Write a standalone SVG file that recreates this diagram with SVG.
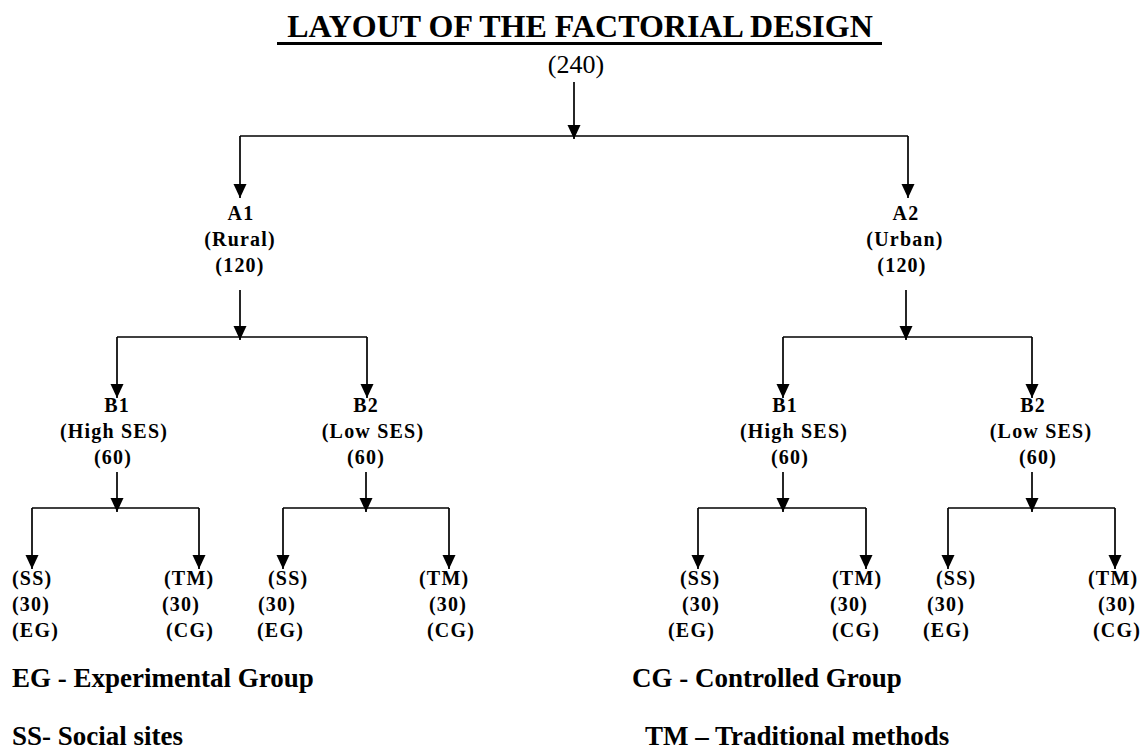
<svg xmlns="http://www.w3.org/2000/svg" width="1148" height="751" viewBox="0 0 1148 751" font-family="Liberation Serif, DejaVu Serif, serif">
<defs>
<style>
text{font-family:'Liberation Serif','DejaVu Serif',serif;fill:#000}
.t{font-size:32px;font-weight:bold}
.r{font-size:26px}
.b{font-size:20px;font-weight:bold;letter-spacing:1.2px}
.m{text-anchor:middle}
.l{font-size:27px;font-weight:bold}
.c{stroke:#000;stroke-width:1.7;fill:none}
.a{stroke:#000;stroke-width:1.7;fill:none;marker-end:url(#ah)}
</style>
<marker id="ah" markerUnits="userSpaceOnUse" markerWidth="14" markerHeight="14" refX="14" refY="6.5" orient="auto">
<path d="M0,0 L14,6.5 L0,13 z" fill="#000"/>
</marker>
</defs>
<rect width="1148" height="751" fill="#fff"/>
<g id="title">
<text class="t m" x="580" y="37">LAYOUT OF THE FACTORIAL DESIGN</text>
<rect x="277" y="42" width="605" height="3" fill="#000"/>
</g>
<g id="connectors">
<line class="a" x1="574" y1="82" x2="574" y2="139"/>
<line class="c" x1="240" y1="136" x2="908" y2="136"/>
<line class="a" x1="240" y1="136" x2="240" y2="198"/>
<line class="a" x1="908" y1="136" x2="908" y2="198"/>
<line class="a" x1="240" y1="290" x2="240" y2="340"/>
<line class="a" x1="906" y1="290" x2="906" y2="340"/>
<line class="c" x1="117" y1="337" x2="367" y2="337"/>
<line class="c" x1="783" y1="337" x2="1032" y2="337"/>
<line class="a" x1="117" y1="337" x2="117" y2="398"/>
<line class="a" x1="367" y1="337" x2="367" y2="398"/>
<line class="a" x1="783" y1="337" x2="783" y2="398"/>
<line class="a" x1="1032" y1="337" x2="1032" y2="398"/>
<line class="a" x1="117" y1="472" x2="117" y2="512"/>
<line class="a" x1="366" y1="472" x2="366" y2="512"/>
<line class="a" x1="783" y1="472" x2="783" y2="512"/>
<line class="a" x1="1032" y1="472" x2="1032" y2="512"/>
<line class="c" x1="32" y1="508" x2="199" y2="508"/>
<line class="c" x1="283" y1="508" x2="449" y2="508"/>
<line class="c" x1="698" y1="508" x2="866" y2="508"/>
<line class="c" x1="948" y1="508" x2="1115" y2="508"/>
<line class="a" x1="32" y1="508" x2="32" y2="569"/>
<line class="a" x1="199" y1="508" x2="199" y2="569"/>
<line class="a" x1="283" y1="508" x2="283" y2="569"/>
<line class="a" x1="449" y1="508" x2="449" y2="569"/>
<line class="a" x1="698" y1="508" x2="698" y2="569"/>
<line class="a" x1="866" y1="508" x2="866" y2="569"/>
<line class="a" x1="948" y1="508" x2="948" y2="569"/>
<line class="a" x1="1115" y1="508" x2="1115" y2="569"/>
</g>
<g id="root"><text class="r m" x="576" y="73">(240)</text></g>
<g id="a1">
<text class="b m" x="241" y="220">A1</text>
<text class="b m" x="240" y="246">(Rural)</text>
<text class="b m" x="240" y="272">(120)</text>
</g>
<g id="a2">
<text class="b m" x="906" y="220">A2</text>
<text class="b m" x="905" y="246">(Urban)</text>
<text class="b m" x="902" y="272">(120)</text>
</g>
<g id="a1b1">
<text class="b m" x="117" y="412">B1</text>
<text class="b m" x="114" y="438">(High SES)</text>
<text class="b m" x="113" y="464">(60)</text>
</g>
<g id="a1b2">
<text class="b m" x="366" y="412">B2</text>
<text class="b m" x="373" y="438">(Low SES)</text>
<text class="b m" x="366" y="464">(60)</text>
</g>
<g id="a2b1">
<text class="b m" x="785" y="412">B1</text>
<text class="b m" x="794" y="438">(High SES)</text>
<text class="b m" x="790" y="464">(60)</text>
</g>
<g id="a2b2">
<text class="b m" x="1033" y="412">B2</text>
<text class="b m" x="1041" y="438">(Low SES)</text>
<text class="b m" x="1038" y="464">(60)</text>
</g>
<g id="a1b1ss"><text class="b" x="12" y="585">(SS)</text><text class="b" x="12" y="611">(30)</text><text class="b" x="12" y="637">(EG)</text></g>
<g id="a1b1tm"><text class="b" x="164" y="585">(TM)</text><text class="b" x="162" y="611">(30)</text><text class="b" x="166" y="637">(CG)</text></g>
<g id="a1b2ss"><text class="b" x="268" y="585">(SS)</text><text class="b" x="258" y="611">(30)</text><text class="b" x="257" y="637">(EG)</text></g>
<g id="a1b2tm"><text class="b" x="419" y="585">(TM)</text><text class="b" x="429" y="611">(30)</text><text class="b" x="427" y="637">(CG)</text></g>
<g id="a2b1ss"><text class="b" x="680" y="585">(SS)</text><text class="b" x="682" y="611">(30)</text><text class="b" x="668" y="637">(EG)</text></g>
<g id="a2b1tm"><text class="b" x="832" y="585">(TM)</text><text class="b" x="830" y="611">(30)</text><text class="b" x="832" y="637">(CG)</text></g>
<g id="a2b2ss"><text class="b" x="936" y="585">(SS)</text><text class="b" x="927" y="611">(30)</text><text class="b" x="923" y="637">(EG)</text></g>
<g id="a2b2tm"><text class="b" x="1088" y="585">(TM)</text><text class="b" x="1098" y="611">(30)</text><text class="b" x="1093" y="637">(CG)</text></g>
<g id="legend">
<text class="l" x="12" y="687">EG - Experimental Group</text>
<text class="l" x="632" y="687">CG - Controlled Group</text>
<text class="l" x="12" y="745">SS- Social sites</text>
<text class="l" x="645" y="745">TM – Traditional methods</text>
</g>
</svg>
